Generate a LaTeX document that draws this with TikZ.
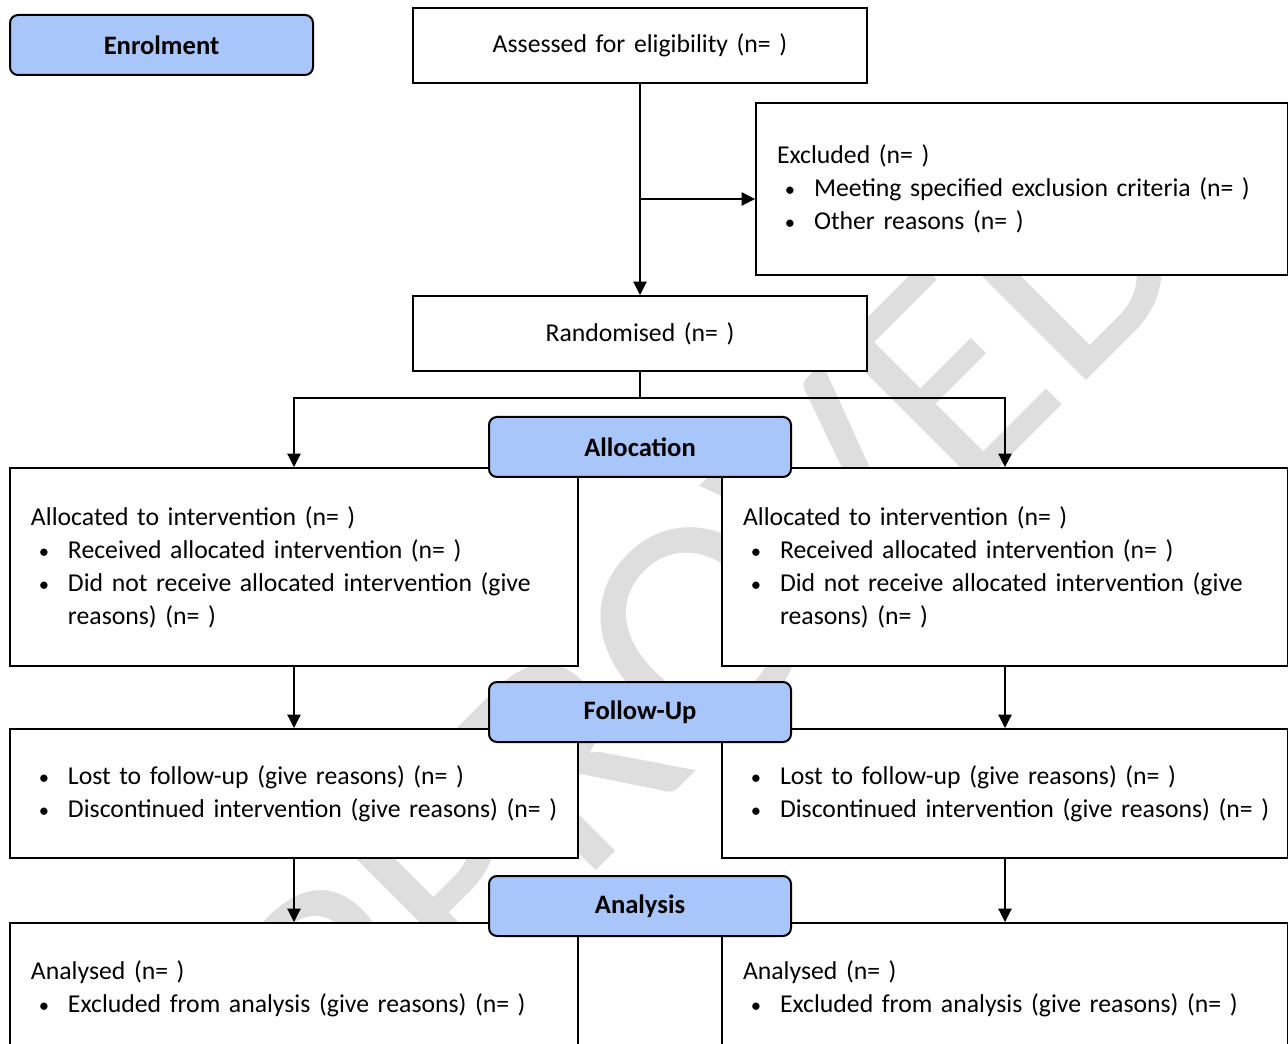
\documentclass[tikz,border=0pt]{standalone}
\usepackage{fontspec}
\setmainfont{Carlito}
\usetikzlibrary{arrows.meta,calc}

\definecolor{stageblue}{RGB}{168,198,250}
\definecolor{wmgray}{RGB}{222,222,222}
\newcommand{\flowfont}{\fontsize{19.3pt}{24.75pt}\selectfont}
\newcommand{\stagefont}{\fontsize{19.95pt}{24.75pt}\selectfont\bfseries}
\newcommand{\bul}[1]{\mbox{\makebox[19.5pt]{\scalebox{0.8}{\textbullet}}\hspace{8.25pt}#1}}
\newcommand{\cont}{\hspace*{27.75pt}}

\tikzset{every picture/.style={line width=0.9pt}}

\begin{document}
\begin{tikzpicture}[x=0.75pt,y=0.75pt,yscale=-1,xscale=1,
  box/.style={draw, fill=white, line width=1.5pt, anchor=north west, inner xsep=15.75pt, inner ysep=0pt, align=left, font=\flowfont},
  single/.style={box, align=center},
  stage/.style={draw, fill=stageblue, line width=1.5pt, rounded corners=6pt, anchor=north west, minimum width=226.5pt, minimum height=45pt, inner sep=0pt, font=\stagefont},
  conn/.style={-{Triangle[length=10pt,width=10pt]}, line width=0.9pt}]
\useasboundingbox (0,0) rectangle (1288,1044);
\clip (0,0) rectangle (1288,1044);

% watermark
\node [font=\fontsize{232.5pt}{240pt}\selectfont, text=wmgray, rotate=45, anchor=base east, inner sep=0pt] (wm) at (1206,261) {APPROVED};

% Enrolment
\node [single, text width=309pt, minimum height=56.25pt] (assess) at (412,7) {Assessed for eligibility (n= )};
\node [box, text width=367.5pt, minimum height=129pt] (excl) at (755,102) {Excluded (n= )\\
\bul{Meeting specified exclusion criteria (n= )}\\
\bul{Other reasons (n= )}};
\node [single, text width=309pt, minimum height=56.25pt] (rand) at (412,295) {Randomised (n= )};

% Allocation
\node [box, text width=394.5pt, minimum height=148.5pt] (alloc1) at (9,467) {Allocated to intervention (n= )\\
\bul{Received allocated intervention (n= )}\\
\bul{Did not receive allocated intervention (give}\\
\cont reasons) (n= )};
\node [box, text width=393pt, minimum height=148.5pt] (alloc2) at (721,467) {Allocated to intervention (n= )\\
\bul{Received allocated intervention (n= )}\\
\bul{Did not receive allocated intervention (give}\\
\cont reasons) (n= )};

% Follow-up
\node [box, text width=394.5pt, minimum height=96.75pt] (follow1) at (9,728) {\bul{Lost to follow-up (give reasons) (n= )}\\
\bul{Discontinued intervention (give reasons) (n= )}};
\node [box, text width=393pt, minimum height=96.75pt] (follow2) at (721,728) {\bul{Lost to follow-up (give reasons) (n= )}\\
\bul{Discontinued intervention (give reasons) (n= )}};

% Analysis
\node [box, text width=394.5pt, minimum height=98.25pt] (anal1) at (9,922) {Analysed (n= )\\
\bul{Excluded from analysis (give reasons) (n= )}};
\node [box, text width=393pt, minimum height=98.25pt] (anal2) at (721,922) {Analysed (n= )\\
\bul{Excluded from analysis (give reasons) (n= )}};

% connectors
\coordinate (exjoin) at ($(excl.west)+(0,10)$);
\coordinate (split) at ($(rand.south)+(0,26)$);
\draw [conn] (assess) -- (rand);
\draw [conn] (assess.south |- exjoin) -- (exjoin);
\draw (rand) -- (split);
\draw [conn] (split) -| (alloc1);
\draw [conn] (split) -| (alloc2);
\draw [conn] (alloc1) -- (follow1);
\draw [conn] (alloc2) -- (follow2);
\draw [conn] (follow1) -- (anal1);
\draw [conn] (follow2) -- (anal2);

% stage labels
\node [stage, minimum width=227.25pt] (enrol) at (9,14) {Enrolment};
\node [stage] (allocation) at (488,416) {Allocation};
\node [stage] (followup) at (488,681) {Follow-Up};
\node [stage] (analysis) at (488,875) {Analysis};

\end{tikzpicture}
\end{document}
